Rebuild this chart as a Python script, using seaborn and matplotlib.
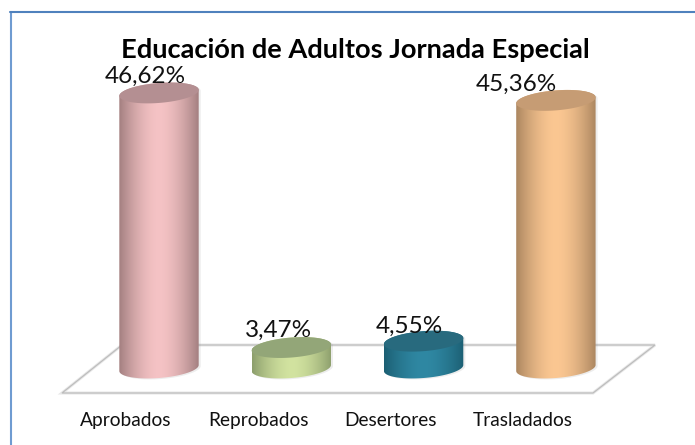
import matplotlib
matplotlib.use("Agg")
import matplotlib.pyplot as plt
import numpy as np
import seaborn as sns
from matplotlib.colors import to_rgb
from matplotlib.patches import Polygon
from matplotlib.transforms import ScaledTranslation

categories = ["Aprobados", "Reprobados", "Desertores", "Trasladados"]
values = [46.62, 3.47, 4.55, 45.36]
title = "Educación de Adultos Jornada Especial"

center_colors = ["#F5C3C5", "#D2E3A0", "#2F88A3", "#FBC792"]
edge_colors = ["#A37F80", "#8C9E6C", "#1C5F73", "#AB8660"]
top_colors = ["#B48F92", "#93A678", "#286A7E", "#C69C74"]
label_shift = [(-14, 10), (-13, 11), (-14, 8), (-40, 10)]

W, H = 695, 445
AX_L, AX_R, AX_T, AX_B = 12, 690, 12, 400
BASE_X, STEP_X = 159, 132.3
BASE_Y, PX_PER_UNIT = 368, 5.9


def data_x(px):
    return (px - BASE_X) / STEP_X


def data_y(py):
    return (BASE_Y - py) / PX_PER_UNIT


def ellipse(cx, cy, half_w, start, stop):
    # slanted ellipse, right side a bit higher than the left one
    t = np.linspace(start, stop, 80)
    xs = cx + half_w * np.cos(t)
    ys = cy + (3 * np.cos(t) + 10 * np.sin(t)) / PX_PER_UNIT
    return np.column_stack([xs, ys])


sns.set_theme(style="white")
plt.rcParams["font.family"] = ["Lato", "DejaVu Sans"]

fig = plt.figure(figsize=(W / 100, H / 100), dpi=100)
ax = fig.add_axes([AX_L / W, 1 - AX_B / H, (AX_R - AX_L) / W, (AX_B - AX_T) / H])

sns.barplot(x=categories, y=values, width=0.6, ax=ax, errorbar=None)
bars = list(ax.patches)

ax.set_xlim(data_x(AX_L), data_x(AX_R))
ax.set_ylim(data_y(AX_B), data_y(AX_T))
sns.despine(ax=ax, left=True, bottom=True)
ax.set_ylabel("")
ax.set_yticks([])
ax.tick_params(axis="x", length=0, pad=8.5, labelsize=13.8, labelcolor="#111111")
shift = ScaledTranslation(-33 / 100, 0, fig.dpi_scale_trans)
for lab in ax.get_xticklabels():
    lab.set_transform(lab.get_transform() + shift)

# floor of the 3d plot
floor_px = [(62, 393), (593, 393), (655, 345), (122, 345)]
floor = [(data_x(x), data_y(y)) for x, y in floor_px]
ax.add_patch(Polygon(floor, closed=True, fc="white", ec="#E8E8E8", lw=2.2, zorder=1, clip_on=False))
ax.add_patch(Polygon(floor, closed=True, fc="none", ec="#BDBDBD", lw=0.9, zorder=1.1, clip_on=False))

for i, bar in enumerate(bars):
    bar.set_visible(False)
    left, width, height = bar.get_x(), bar.get_width(), bar.get_height()
    cx = left + width / 2
    half = width / 2
    front = ellipse(cx, 0, half, np.pi, 2 * np.pi)
    back = ellipse(cx, height, half, 0, np.pi)
    outline = np.vstack([front, back])

    shadow = outline + [2 / STEP_X, -1 / PX_PER_UNIT]
    ax.add_patch(Polygon(shadow, closed=True, fc="#888888", ec="none", alpha=0.15, zorder=2))

    u = np.abs(np.linspace(-1, 1, 200)) ** 1.7
    c0, c1 = np.array(to_rgb(center_colors[i])), np.array(to_rgb(edge_colors[i]))
    grad = c0[None, None, :] * (1 - u[None, :, None]) + c1[None, None, :] * u[None, :, None]
    img = ax.imshow(
        grad,
        extent=[left, left + width, -3, height + 3],
        aspect="auto",
        interpolation="bilinear",
        zorder=3,
    )
    clip = Polygon(outline, closed=True, transform=ax.transData)
    img.set_clip_path(clip)

    lid = ellipse(cx, height, half, 0, 2 * np.pi)
    ax.add_patch(Polygon(lid, closed=True, fc=top_colors[i], ec="none", zorder=4))

    text = f"{values[i]:.2f}".replace(".", ",") + "%"
    ax.annotate(
        text,
        (cx, height),
        xytext=label_shift[i],
        textcoords="offset pixels",
        ha="center",
        va="baseline",
        fontsize=17.5,
        color="#111111",
        zorder=5,
    )

ax.set_xlim(data_x(AX_L), data_x(AX_R))
ax.set_ylim(data_y(AX_B), data_y(AX_T))

fig.text(355 / W, 1 - 58 / H, title, ha="center", va="baseline", fontsize=19.6, fontweight="bold", color="black")

# chart frame, only top and left edges show in the picture
fig.add_artist(plt.Line2D([10.5 / W, 10.5 / W], [0, 1 - 12 / H], color="#6F9BD1", lw=1.5))
fig.add_artist(plt.Line2D([10 / W, 1], [1 - 12 / H, 1 - 12 / H], color="#4F81BD", lw=1.5))

fig.savefig("out.png", dpi=100)
